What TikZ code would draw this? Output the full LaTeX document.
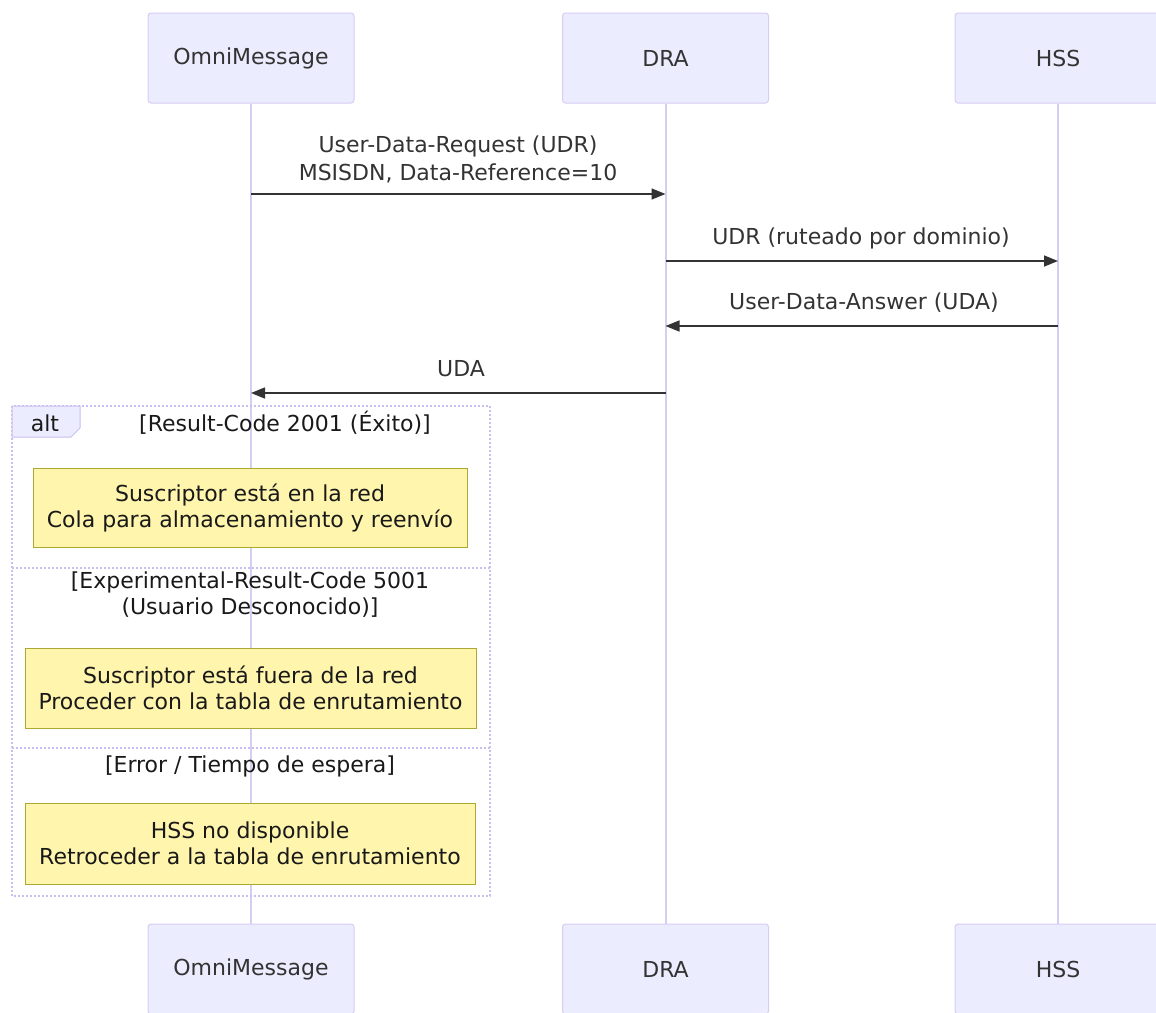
\documentclass[tikz,border=0pt]{standalone}
\usepackage{fontspec}
\setmainfont{DejaVu Sans}
\usetikzlibrary{arrows.meta}
\definecolor{actfill}{HTML}{ECECFF}
\definecolor{actline}{HTML}{D7CCF4}
\definecolor{frameline}{HTML}{C9BEF0}
\definecolor{txt}{HTML}{333333}
\definecolor{notefill}{HTML}{FFF5AD}
\definecolor{noteline}{HTML}{AAAA33}
\begin{document}
\begin{tikzpicture}[x=1pt,y=-1pt,
  actor/.style={draw=actline, line width=1pt, fill=actfill, rounded corners=3pt, minimum width=206pt, minimum height=90pt, inner sep=0pt, text=txt, font=\fontsize{22}{27}\selectfont},
  msg/.style={draw=txt, line width=1.5pt, -{Triangle[length=14pt,width=11pt]}},
  msglabel/.style={text=txt, align=center, inner sep=0pt, font=\fontsize{22}{28}\selectfont},
  notebox/.style={draw=noteline, fill=notefill, line width=1pt, align=center, inner sep=0pt, text=black!90, font=\fontsize{22}{26}\selectfont},
  lifeline/.style={draw=actline, line width=2pt},
  altframe/.style={draw=frameline, line width=2pt, dash pattern=on 2pt off 2pt},
  seclabel/.style={text=black!90, align=center, inner sep=0pt, font=\fontsize{22}{26}\selectfont}
]
\useasboundingbox (0,0) rectangle (1156,1012);
\clip (0,0) rectangle (1156,1012);
% actors
\node[actor] (omniT) at (251,58) {OmniMessage};
\node[actor] (draT) at (665.5,58) {DRA};
\node[actor, minimum width=230pt] (hssT) at (1070,58) {\hspace*{-24pt}HSS};
\node[actor] (omniB) at (251,969) {OmniMessage};
\node[actor] (draB) at (665.5,969) {DRA};
\node[actor, minimum width=230pt] (hssB) at (1070,969) {\hspace*{-24pt}HSS};
\coordinate (hssTl) at ([xshift=-12pt]hssT.south);
\coordinate (hssBl) at ([xshift=-12pt]hssB.north);
% lifelines
\draw[lifeline] (omniT.south) -- (omniB.north);
\draw[lifeline] (draT.south) -- (draB.north);
\draw[lifeline] (hssTl) -- (hssBl);
% messages
\node[msglabel] (l1) at (458,159) {User-Data-Request (UDR)\\MSISDN, Data-Reference=10};
\draw[msg] (omniT.south |- 0,194) -- (draT.south |- 0,194);
\node[msglabel] (l2) at (861,238) {UDR (ruteado por dominio)};
\draw[msg] (draT.south |- 0,261) -- (hssTl |- 0,261);
\node[msglabel] (l3) at (864,303) {User-Data-Answer (UDA)};
\draw[msg] (hssTl |- 0,326) -- (draT.south |- 0,326);
\node[msglabel] (l4) at (461,369) {UDA};
\draw[msg] (draT.south |- 0,393) -- (omniT.south |- 0,393);
% alt frame
\draw[altframe] (12,406) rectangle (490,896);
\draw[altframe] (12,568) -- (490,568);
\draw[altframe] (12,748) -- (490,748);
\draw[fill=actfill, draw=frameline, line width=1pt] (12,406) -- (80,406) -- (80,428) -- (71,437) -- (12,437) -- cycle;
\node[seclabel] (altl) at (45,423) {alt};
\node[seclabel] (s1) at (285,423) {[Result-Code 2001 (Éxito)]};
\node[seclabel] (s2) at (250,595) {[Experimental-Result-Code 5001\\(Usuario Desconocido)]};
\node[seclabel] (s3) at (250,766) {[Error / Tiempo de espera]};
% notes
\node[notebox, minimum width=434pt, minimum height=79pt] (n1) at (250,507.5) {Suscriptor está en la red\\Cola para almacenamiento y reenvío};
\node[notebox, minimum width=451pt, minimum height=80pt] (n2) at (250.5,688) {Suscriptor está fuera de la red\\Proceder con la tabla de enrutamiento};
\node[notebox, minimum width=450pt, minimum height=81pt] (n3) at (250,843.5) {HSS no disponible\\Retroceder a la tabla de enrutamiento};
\end{tikzpicture}
\end{document}
